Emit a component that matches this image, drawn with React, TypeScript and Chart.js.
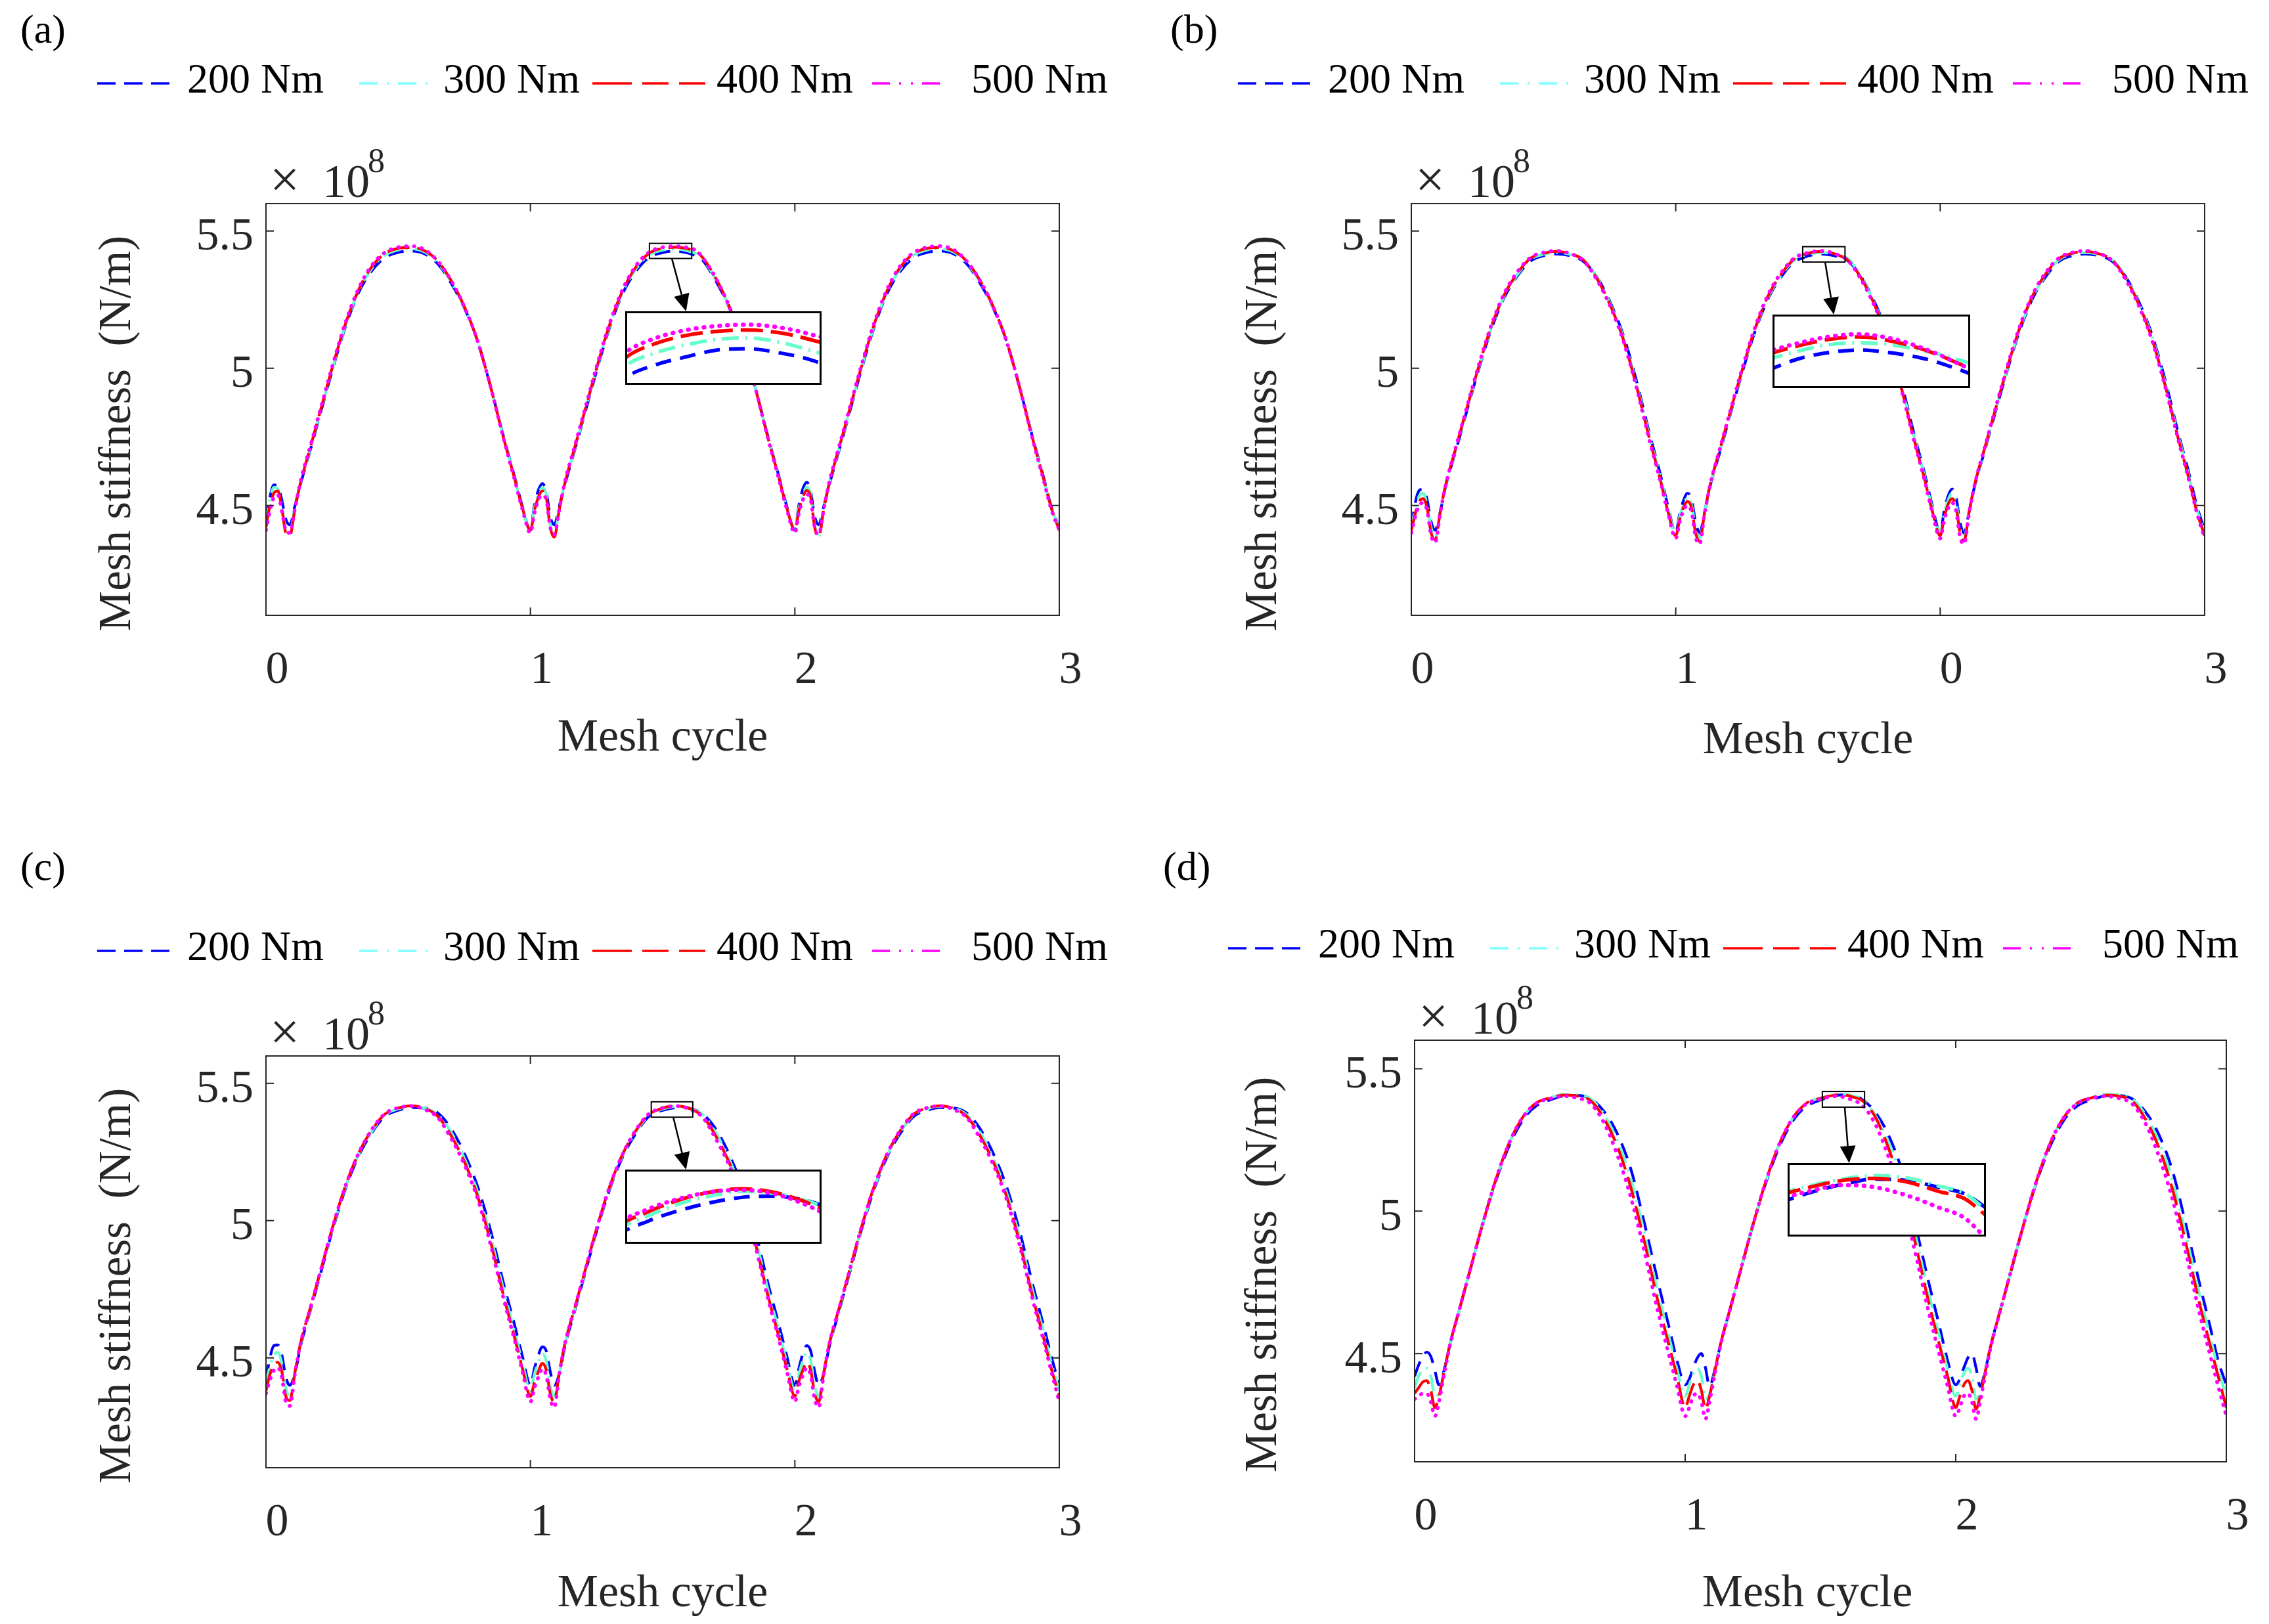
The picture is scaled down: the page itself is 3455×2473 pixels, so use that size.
import { useEffect, useRef } from 'react';
import { Chart, registerables } from 'chart.js';

Chart.register(...registerables);

const SERIF = '"Liberation Serif", "Times New Roman", Times, serif';
const AXIS_COLOR = '#262626';
const TICK_LEN = 12;

// ── Shared axis values ────────────────────────────────────
// mesh-cycle positions of every sampled point (denser around the zoomed peak)
const meshCycle = [
  0, 0.015, 0.03, 0.045, 0.06, 0.075, 0.09, 0.11, 0.13, 0.17, 0.21, 0.25, 0.3, 0.35, 0.4, 0.45, 0.5, 0.55, 0.6, 0.65, 0.7, 0.75, 0.8, 0.85, 0.9, 0.94, 0.97,
  1, 1.015, 1.03, 1.045, 1.06, 1.075, 1.09, 1.11, 1.13, 1.17, 1.21, 1.25, 1.3, 1.35, 1.4, 1.45, 1.475, 1.5, 1.525, 1.55, 1.575, 1.6, 1.625, 1.65, 1.7, 1.75, 1.8, 1.85, 1.9, 1.94, 1.97,
  2, 2.015, 2.03, 2.045, 2.06, 2.075, 2.09, 2.11, 2.13, 2.17, 2.21, 2.25, 2.3, 2.35, 2.4, 2.45, 2.5, 2.55, 2.6, 2.65, 2.7, 2.75, 2.8, 2.85, 2.9, 2.94, 2.97,
  3,
];

const xTicks = [0, 1, 2, 3];
const xLabels = ['0', '1', '2', '3'];
const xLabelsB = ['0', '1', '0', '3']; // printed this way in panel (b)
const yTicks = [4.5, 5, 5.5];
const yLabels = ['4.5', '5', '5.5'];
const loadLabels = ['200 Nm', '300 Nm', '400 Nm', '500 Nm'];

// ── Panel (a) mesh stiffness, ×1e8 N/m ────────────────────
const a200 = [
  4.44, 4.53, 4.575, 4.57, 4.52, 4.45, 4.43, 4.5, 4.575, 4.71, 4.85, 4.99, 5.15, 5.275, 5.355, 5.403, 5.422, 5.427, 5.417, 5.38, 5.31, 5.22, 5.1, 4.93, 4.745, 4.605, 4.495,
  4.41, 4.5, 4.555, 4.58, 4.55, 4.46, 4.43, 4.5, 4.575, 4.71, 4.85, 4.99, 5.15, 5.275, 5.355, 5.405, 5.415, 5.421, 5.426, 5.427, 5.424, 5.419, 5.41, 5.395, 5.32, 5.225, 5.1, 4.93, 4.745, 4.605, 4.495,
  4.41, 4.5, 4.56, 4.585, 4.55, 4.46, 4.43, 4.5, 4.575, 4.71, 4.85, 4.99, 5.15, 5.275, 5.355, 5.403, 5.422, 5.427, 5.417, 5.38, 5.31, 5.22, 5.1, 4.93, 4.745, 4.605, 4.495,
  4.42,
];
const a300 = [
  4.43, 4.52, 4.567, 4.56, 4.5, 4.41, 4.4, 4.5, 4.58, 4.715, 4.855, 4.995, 5.155, 5.28, 5.363, 5.412, 5.431, 5.435, 5.423, 5.385, 5.315, 5.222, 5.1, 4.93, 4.742, 4.6, 4.49,
  4.41, 4.49, 4.54, 4.565, 4.54, 4.43, 4.39, 4.5, 4.58, 4.715, 4.855, 4.995, 5.155, 5.28, 5.363, 5.414, 5.424, 5.43, 5.434, 5.435, 5.432, 5.426, 5.418, 5.4, 5.325, 5.228, 5.1, 4.93, 4.742, 4.6, 4.49,
  4.41, 4.49, 4.54, 4.567, 4.54, 4.43, 4.39, 4.5, 4.58, 4.715, 4.855, 4.995, 5.155, 5.28, 5.363, 5.412, 5.431, 5.435, 5.423, 5.385, 5.315, 5.222, 5.1, 4.93, 4.742, 4.6, 4.49,
  4.42,
];
const a400 = [
  4.42, 4.5, 4.545, 4.553, 4.49, 4.4, 4.39, 4.49, 4.58, 4.72, 4.86, 5.0, 5.16, 5.285, 5.37, 5.418, 5.437, 5.44, 5.428, 5.39, 5.32, 5.225, 5.1, 4.93, 4.74, 4.6, 4.49,
  4.41, 4.48, 4.53, 4.553, 4.53, 4.42, 4.385, 4.49, 4.58, 4.72, 4.86, 5.0, 5.16, 5.285, 5.37, 5.42, 5.431, 5.437, 5.44, 5.441, 5.439, 5.434, 5.426, 5.405, 5.33, 5.23, 5.1, 4.93, 4.74, 4.6, 4.49,
  4.41, 4.48, 4.53, 4.555, 4.53, 4.42, 4.385, 4.49, 4.58, 4.72, 4.86, 5.0, 5.16, 5.285, 5.37, 5.418, 5.437, 5.44, 5.428, 5.39, 5.32, 5.225, 5.1, 4.93, 4.74, 4.6, 4.49,
  4.41,
];
const a500 = [
  4.41, 4.48, 4.53, 4.538, 4.48, 4.41, 4.4, 4.49, 4.585, 4.725, 4.865, 5.005, 5.165, 5.29, 5.375, 5.422, 5.441, 5.445, 5.432, 5.39, 5.32, 5.225, 5.1, 4.93, 4.738, 4.595, 4.485,
  4.4, 4.47, 4.52, 4.538, 4.52, 4.42, 4.395, 4.49, 4.585, 4.725, 4.865, 5.005, 5.165, 5.29, 5.375, 5.424, 5.435, 5.441, 5.444, 5.445, 5.443, 5.438, 5.43, 5.405, 5.33, 5.23, 5.1, 4.93, 4.738, 4.595, 4.485,
  4.4, 4.47, 4.52, 4.54, 4.52, 4.42, 4.395, 4.49, 4.585, 4.725, 4.865, 5.005, 5.165, 5.29, 5.375, 5.422, 5.441, 5.445, 5.432, 5.39, 5.32, 5.225, 5.1, 4.93, 4.738, 4.595, 4.485,
  4.41,
];

// ── Panel (b) ─────────────────────────────────────────────
const b200 = [
  4.42, 4.51, 4.555, 4.56, 4.52, 4.44, 4.41, 4.48, 4.57, 4.705, 4.845, 4.98, 5.135, 5.255, 5.335, 5.39, 5.41, 5.416, 5.41, 5.39, 5.335, 5.245, 5.125, 4.96, 4.765, 4.62, 4.5,
  4.4, 4.47, 4.52, 4.545, 4.52, 4.44, 4.4, 4.48, 4.57, 4.705, 4.845, 4.98, 5.135, 5.255, 5.335, 5.39, 5.4, 5.409, 5.414, 5.416, 5.414, 5.41, 5.403, 5.392, 5.335, 5.245, 5.125, 4.96, 4.765, 4.62, 4.5,
  4.4, 4.48, 4.535, 4.56, 4.53, 4.44, 4.4, 4.48, 4.57, 4.705, 4.845, 4.98, 5.135, 5.255, 5.335, 5.39, 5.41, 5.416, 5.41, 5.39, 5.335, 5.245, 5.125, 4.96, 4.765, 4.62, 4.5,
  4.41,
];
const b300 = [
  4.41, 4.49, 4.535, 4.545, 4.5, 4.42, 4.385, 4.48, 4.572, 4.71, 4.85, 4.985, 5.14, 5.26, 5.34, 5.396, 5.415, 5.4215, 5.415, 5.397, 5.335, 5.24, 5.117, 4.95, 4.755, 4.61, 4.49,
  4.4, 4.46, 4.505, 4.53, 4.5, 4.42, 4.38, 4.48, 4.572, 4.71, 4.85, 4.985, 5.14, 5.26, 5.34, 5.396, 5.408, 5.415, 5.42, 5.4215, 5.42, 5.416, 5.41, 5.4, 5.335, 5.24, 5.117, 4.95, 4.755, 4.61, 4.49,
  4.4, 4.47, 4.52, 4.545, 4.51, 4.42, 4.38, 4.48, 4.572, 4.71, 4.85, 4.985, 5.14, 5.26, 5.34, 5.396, 5.415, 5.4215, 5.415, 5.397, 5.335, 5.24, 5.117, 4.95, 4.755, 4.61, 4.49,
  4.4,
];
const b400 = [
  4.41, 4.47, 4.515, 4.525, 4.49, 4.4, 4.375, 4.48, 4.575, 4.715, 4.855, 4.99, 5.145, 5.265, 5.345, 5.4, 5.419, 5.426, 5.417, 5.395, 5.33, 5.235, 5.11, 4.94, 4.745, 4.6, 4.48,
  4.39, 4.45, 4.495, 4.515, 4.49, 4.4, 4.37, 4.48, 4.575, 4.715, 4.855, 4.99, 5.145, 5.265, 5.345, 5.4, 5.412, 5.419, 5.424, 5.426, 5.423, 5.417, 5.408, 5.395, 5.33, 5.235, 5.11, 4.94, 4.745, 4.6, 4.48,
  4.39, 4.455, 4.505, 4.525, 4.495, 4.4, 4.37, 4.48, 4.575, 4.715, 4.855, 4.99, 5.145, 5.265, 5.345, 5.4, 5.419, 5.426, 5.417, 5.395, 5.33, 5.235, 5.11, 4.94, 4.745, 4.6, 4.48,
  4.39,
];
const b500 = [
  4.4, 4.46, 4.5, 4.51, 4.48, 4.39, 4.365, 4.475, 4.575, 4.718, 4.858, 4.995, 5.15, 5.27, 5.35, 5.403, 5.422, 5.428, 5.418, 5.393, 5.325, 5.23, 5.105, 4.935, 4.74, 4.595, 4.475,
  4.38, 4.44, 4.485, 4.5, 4.475, 4.385, 4.36, 4.475, 4.575, 4.718, 4.858, 4.995, 5.15, 5.27, 5.35, 5.403, 5.414, 5.421, 5.426, 5.428, 5.425, 5.418, 5.408, 5.394, 5.325, 5.23, 5.105, 4.935, 4.74, 4.595, 4.475,
  4.38, 4.445, 4.49, 4.51, 4.48, 4.385, 4.36, 4.475, 4.575, 4.718, 4.858, 4.995, 5.15, 5.27, 5.35, 5.403, 5.422, 5.428, 5.418, 5.393, 5.325, 5.23, 5.105, 4.935, 4.74, 4.595, 4.475,
  4.38,
];

// ── Panel (c) ─────────────────────────────────────────────
const c200 = [
  4.42, 4.5, 4.545, 4.547, 4.51, 4.43, 4.4, 4.445, 4.54, 4.68, 4.82, 4.96, 5.115, 5.235, 5.32, 5.38, 5.402, 5.412, 5.41, 5.392, 5.335, 5.245, 5.125, 4.962, 4.765, 4.62, 4.505,
  4.4, 4.46, 4.51, 4.54, 4.525, 4.45, 4.4, 4.445, 4.54, 4.68, 4.82, 4.96, 5.115, 5.235, 5.32, 5.382, 5.394, 5.402, 5.408, 5.412, 5.413, 5.41, 5.402, 5.39, 5.335, 5.245, 5.125, 4.962, 4.765, 4.62, 4.505,
  4.4, 4.46, 4.515, 4.545, 4.525, 4.45, 4.4, 4.445, 4.54, 4.68, 4.82, 4.96, 5.115, 5.235, 5.32, 5.38, 5.402, 5.412, 5.41, 5.392, 5.335, 5.245, 5.125, 4.962, 4.765, 4.62, 4.505,
  4.4,
];
const c300 = [
  4.4, 4.47, 4.51, 4.52, 4.48, 4.39, 4.36, 4.445, 4.545, 4.685, 4.825, 4.965, 5.12, 5.24, 5.325, 5.385, 5.407, 5.4165, 5.41, 5.386, 5.322, 5.228, 5.105, 4.94, 4.742, 4.597, 4.482,
  4.38, 4.44, 4.485, 4.515, 4.49, 4.4, 4.36, 4.445, 4.545, 4.685, 4.825, 4.965, 5.12, 5.24, 5.325, 5.386, 5.398, 5.407, 5.413, 5.4165, 5.415, 5.41, 5.401, 5.388, 5.322, 5.228, 5.105, 4.94, 4.742, 4.597, 4.482,
  4.38, 4.44, 4.49, 4.52, 4.49, 4.4, 4.36, 4.445, 4.545, 4.685, 4.825, 4.965, 5.12, 5.24, 5.325, 5.385, 5.407, 5.4165, 5.41, 5.386, 5.322, 5.228, 5.105, 4.94, 4.742, 4.597, 4.482,
  4.38,
];
const c400 = [
  4.38, 4.44, 4.475, 4.484, 4.45, 4.36, 4.345, 4.45, 4.55, 4.69, 4.83, 4.97, 5.125, 5.245, 5.33, 5.388, 5.41, 5.4185, 5.409, 5.38, 5.31, 5.215, 5.09, 4.92, 4.72, 4.575, 4.46,
  4.36, 4.41, 4.45, 4.48, 4.455, 4.37, 4.34, 4.45, 4.55, 4.69, 4.83, 4.97, 5.125, 5.245, 5.33, 5.389, 5.401, 5.41, 5.416, 5.4185, 5.416, 5.409, 5.398, 5.382, 5.31, 5.215, 5.09, 4.92, 4.72, 4.575, 4.46,
  4.36, 4.415, 4.455, 4.484, 4.455, 4.37, 4.34, 4.45, 4.55, 4.69, 4.83, 4.97, 5.125, 5.245, 5.33, 5.388, 5.41, 5.4185, 5.409, 5.38, 5.31, 5.215, 5.09, 4.92, 4.72, 4.575, 4.46,
  4.36,
];
const c500 = [
  4.37, 4.42, 4.455, 4.464, 4.43, 4.34, 4.325, 4.445, 4.55, 4.69, 4.83, 4.97, 5.125, 5.245, 5.332, 5.39, 5.411, 5.4177, 5.405, 5.375, 5.3, 5.205, 5.08, 4.91, 4.71, 4.565, 4.45,
  4.34, 4.39, 4.43, 4.46, 4.435, 4.35, 4.32, 4.445, 4.55, 4.69, 4.83, 4.97, 5.125, 5.245, 5.332, 5.391, 5.403, 5.411, 5.416, 5.4177, 5.415, 5.407, 5.395, 5.378, 5.3, 5.205, 5.08, 4.91, 4.71, 4.565, 4.45,
  4.34, 4.395, 4.435, 4.464, 4.435, 4.35, 4.32, 4.445, 4.55, 4.69, 4.83, 4.97, 5.125, 5.245, 5.332, 5.39, 5.411, 5.4177, 5.405, 5.375, 5.3, 5.205, 5.08, 4.91, 4.71, 4.565, 4.45,
  4.34,
];

// ── Panel (d) ─────────────────────────────────────────────
const d200 = [
  4.42, 4.46, 4.49, 4.505, 4.49, 4.44, 4.39, 4.445, 4.53, 4.67, 4.81, 4.95, 5.105, 5.23, 5.32, 5.37, 5.39, 5.404, 5.406, 5.395, 5.35, 5.27, 5.145, 4.955, 4.75, 4.595, 4.475,
  4.39, 4.41, 4.45, 4.485, 4.5, 4.45, 4.385, 4.445, 4.53, 4.67, 4.81, 4.95, 5.105, 5.23, 5.32, 5.37, 5.381, 5.39, 5.398, 5.404, 5.408, 5.407, 5.402, 5.395, 5.35, 5.27, 5.145, 4.955, 4.75, 4.595, 4.475,
  4.39, 4.41, 4.45, 4.485, 4.5, 4.45, 4.385, 4.445, 4.53, 4.67, 4.81, 4.95, 5.105, 5.23, 5.32, 5.37, 5.39, 5.404, 5.406, 5.395, 5.35, 5.27, 5.145, 4.955, 4.75, 4.595, 4.475,
  4.39,
];
const d300 = [
  4.38, 4.42, 4.445, 4.448, 4.42, 4.35, 4.36, 4.44, 4.53, 4.67, 4.81, 4.95, 5.11, 5.24, 5.33, 5.38, 5.398, 5.409, 5.409, 5.395, 5.34, 5.245, 5.11, 4.92, 4.712, 4.56, 4.445,
  4.35, 4.39, 4.43, 4.448, 4.42, 4.34, 4.36, 4.44, 4.53, 4.67, 4.81, 4.95, 5.11, 5.24, 5.33, 5.38, 5.391, 5.397, 5.403, 5.408, 5.4105, 5.409, 5.403, 5.395, 5.34, 5.245, 5.11, 4.92, 4.712, 4.56, 4.445,
  4.35, 4.39, 4.43, 4.448, 4.42, 4.34, 4.36, 4.44, 4.53, 4.67, 4.81, 4.95, 5.11, 5.24, 5.33, 5.38, 5.398, 5.409, 5.409, 5.395, 5.34, 5.245, 5.11, 4.92, 4.712, 4.56, 4.445,
  4.35,
];
const d400 = [
  4.36, 4.38, 4.4, 4.405, 4.37, 4.31, 4.35, 4.44, 4.53, 4.67, 4.81, 4.95, 5.11, 5.24, 5.33, 5.38, 5.397, 5.407, 5.404, 5.388, 5.325, 5.225, 5.08, 4.89, 4.68, 4.53, 4.42,
  4.31, 4.35, 4.39, 4.405, 4.37, 4.305, 4.35, 4.44, 4.53, 4.67, 4.81, 4.95, 5.11, 5.24, 5.33, 5.38, 5.39, 5.396, 5.402, 5.407, 5.4085, 5.406, 5.399, 5.391, 5.335, 5.225, 5.08, 4.89, 4.68, 4.53, 4.42,
  4.31, 4.35, 4.39, 4.405, 4.37, 4.305, 4.35, 4.44, 4.53, 4.67, 4.81, 4.95, 5.11, 5.24, 5.33, 5.38, 5.397, 5.407, 5.404, 5.388, 5.325, 5.225, 5.08, 4.89, 4.68, 4.53, 4.42,
  4.31,
];
const d500 = [
  4.34, 4.35, 4.36, 4.36, 4.33, 4.28, 4.33, 4.43, 4.525, 4.67, 4.81, 4.95, 5.11, 5.24, 5.33, 5.378, 5.395, 5.4035, 5.397, 5.378, 5.31, 5.195, 5.045, 4.855, 4.645, 4.495, 4.385,
  4.28, 4.31, 4.35, 4.36, 4.33, 4.27, 4.33, 4.43, 4.525, 4.67, 4.81, 4.95, 5.11, 5.24, 5.33, 5.378, 5.387, 5.393, 5.399, 5.4035, 5.402, 5.396, 5.387, 5.376, 5.31, 5.195, 5.045, 4.855, 4.645, 4.495, 4.385,
  4.28, 4.31, 4.35, 4.36, 4.33, 4.27, 4.33, 4.43, 4.525, 4.67, 4.81, 4.95, 5.11, 5.24, 5.33, 5.378, 5.395, 5.4035, 5.397, 5.378, 5.31, 5.195, 5.045, 4.855, 4.645, 4.495, 4.385,
  4.28,
];

// ── Styles ────────────────────────────────────────────────
const plotStyles = [
  { color: '#0000ff', dash: [24, 14], cap: 'butt' },
  { color: '#66ffcc', dash: [26, 10, 3, 10], cap: 'butt' },
  { color: '#ff0000', dash: [34, 12], cap: 'butt' },
  { color: '#ff00ff', dash: [1, 11], cap: 'round' },
];
const legendStyles = [
  { color: '#0000ff', dash: [28, 13] },
  { color: '#80ffff', dash: [28, 14, 3, 14] },
  { color: '#ff0000', dash: [60, 16, 40, 16] },
  { color: '#ff00ff', dash: [27, 14, 3, 15, 3, 14, 27, 40] },
];
// legend geometry for panel (a); other panels are shifted copies
const legendLines = [[148, 260], [547, 652], [902, 1074], [1328, 1433]];
const legendTextX = [285, 675, 1091, 1479];

interface Panel {
  ox: number; oy: number; w: number; h: number;
  plot: number[];      // left, top, right, bottom (page px)
  yRange: number[];
  tag: string; tagAt: number[];
  legendDx: number; legendY: number;
  xTitleAt: number[]; yTitleAt: number[];
  inset: number[];     // left, top, width, height (page px)
  zoomX: number[]; zoomY: number[];
  xLabels: string[];
  series: number[][];
}

const panels: Panel[] = [
  {
    ox: 0, oy: 0, w: 1727, h: 1236, plot: [405, 310, 1613, 937], yRange: [4.1, 5.6],
    tag: '(a)', tagAt: [31, 49], legendDx: 0, legendY: 124,
    xTitleAt: [1009, 1125], yTitleAt: [180, 660],
    inset: [952, 474, 299, 112], zoomX: [1.45, 1.61], zoomY: [5.4, 5.455],
    xLabels, series: [a200, a300, a400, a500],
  },
  {
    ox: 1727, oy: 0, w: 1728, h: 1236, plot: [2149, 310, 3357, 937], yRange: [4.1, 5.6],
    tag: '(b)', tagAt: [1782, 49], legendDx: 1737, legendY: 124,
    xTitleAt: [2753, 1129], yTitleAt: [1925, 660],
    inset: [2699, 479, 301, 112], zoomX: [1.48, 1.64], zoomY: [5.387, 5.443],
    xLabels: xLabelsB, series: [b200, b300, b400, b500],
  },
  {
    ox: 0, oy: 1236, w: 1727, h: 1237, plot: [405, 1608, 1613, 2235], yRange: [4.1, 5.6],
    tag: '(c)', tagAt: [31, 1324], legendDx: 0, legendY: 1445,
    xTitleAt: [1009, 2428], yTitleAt: [180, 1958],
    inset: [952, 1781, 299, 113], zoomX: [1.457, 1.614], zoomY: [5.377, 5.433],
    xLabels, series: [c200, c300, c400, c500],
  },
  {
    ox: 1727, oy: 1236, w: 1728, h: 1237, plot: [2154, 1584, 3390, 2226], yRange: [4.12, 5.6],
    tag: '(d)', tagAt: [1771, 1324], legendDx: 1722, legendY: 1441,
    xTitleAt: [2752, 2428], yTitleAt: [1925, 1941],
    inset: [2722, 1771, 302, 112], zoomX: [1.507, 1.663], zoomY: [5.365, 5.42],
    xLabels, series: [d200, d300, d400, d500],
  },
];

function buildDatasets(series: number[][], inset: boolean) {
  return series.map((ys, k) => ({
    label: loadLabels[k],
    data: meshCycle.map((x, i) => ({ x, y: ys[i] })),
    borderColor: plotStyles[k].color,
    backgroundColor: 'transparent',
    borderWidth: inset ? (k === 3 ? 6.5 : 5.5) : (k === 3 ? 5.5 : 4.2),
    borderDash: plotStyles[k].dash,
    borderCapStyle: plotStyles[k].cap,
    pointRadius: 0,
    fill: false,
    tension: 0.4,
    cubicInterpolationMode: 'monotone',
    order: 4 - k, // 500 Nm drawn on top
  }));
}

function drawArrow(ctx: CanvasRenderingContext2D, sx: number, sy: number, ex: number, ey: number) {
  const len = Math.hypot(ex - sx, ey - sy);
  const ux = (ex - sx) / len, uy = (ey - sy) / len;
  const head = 26, half = 12;
  const bx = ex - ux * head, by = ey - uy * head;
  ctx.strokeStyle = '#000';
  ctx.fillStyle = '#000';
  ctx.lineWidth = 2.5;
  ctx.beginPath();
  ctx.moveTo(sx, sy);
  ctx.lineTo(bx, by);
  ctx.stroke();
  ctx.beginPath();
  ctx.moveTo(ex, ey);
  ctx.lineTo(bx - uy * half, by + ux * half);
  ctx.lineTo(bx + uy * half, by - ux * half);
  ctx.closePath();
  ctx.fill();
}

function decorPlugin(p: Panel) {
  return {
    id: 'meshDecor',
    afterDraw(chart: any) {
      const { ctx, chartArea } = chart;
      const { left, top, right, bottom } = chartArea;
      const sx = chart.scales.x, sy = chart.scales.y;
      ctx.save();
      ctx.setLineDash([]);

      // axes box with inward ticks on all sides
      ctx.strokeStyle = AXIS_COLOR;
      ctx.lineWidth = 2;
      ctx.strokeRect(left, top, right - left, bottom - top);
      ctx.beginPath();
      xTicks.forEach(v => {
        const px = sx.getPixelForValue(v);
        ctx.moveTo(px, bottom); ctx.lineTo(px, bottom - TICK_LEN);
        ctx.moveTo(px, top); ctx.lineTo(px, top + TICK_LEN);
      });
      yTicks.forEach(v => {
        const py = sy.getPixelForValue(v);
        ctx.moveTo(left, py); ctx.lineTo(left + TICK_LEN, py);
        ctx.moveTo(right, py); ctx.lineTo(right - TICK_LEN, py);
      });
      ctx.stroke();

      // zoom window + arrow to inset
      const zx0 = sx.getPixelForValue(p.zoomX[0]);
      const zx1 = sx.getPixelForValue(p.zoomX[1]);
      const zyLo = sy.getPixelForValue(p.zoomY[0]);
      const zyHi = sy.getPixelForValue(p.zoomY[1]);
      ctx.strokeStyle = '#000';
      ctx.lineWidth = 2;
      ctx.strokeRect(zx0, zyHi, zx1 - zx0, zyLo - zyHi);
      drawArrow(
        ctx,
        zx0 + 0.53 * (zx1 - zx0), zyLo,
        p.inset[0] - p.ox + 0.31 * p.inset[2], p.inset[1] - p.oy,
      );

      // panel tag
      ctx.fillStyle = '#000';
      ctx.font = `62px ${SERIF}`;
      ctx.textAlign = 'left';
      ctx.textBaseline = 'middle';
      ctx.fillText(p.tag, p.tagAt[0] - p.ox, p.tagAt[1] - p.oy);

      // legend row
      loadLabels.forEach((lab, k) => {
        const [x0, x1] = legendLines[k];
        const ly = p.legendY + 3 - p.oy;
        ctx.strokeStyle = legendStyles[k].color;
        ctx.lineWidth = 3.5;
        ctx.setLineDash(legendStyles[k].dash);
        ctx.beginPath();
        ctx.moveTo(x0 + p.legendDx - p.ox, ly);
        ctx.lineTo(x1 + p.legendDx - p.ox, ly);
        ctx.stroke();
        ctx.setLineDash([]);
        ctx.fillStyle = '#000';
        ctx.font = `64px ${SERIF}`;
        ctx.fillText(lab, legendTextX[k] + p.legendDx - p.ox, p.legendY - p.oy);
      });

      // exponent label
      ctx.fillStyle = AXIS_COLOR;
      ctx.textBaseline = 'alphabetic';
      ctx.font = `80px ${SERIF}`;
      ctx.fillText('\u00d7', left + 6, top - 10);
      ctx.font = `72px ${SERIF}`;
      ctx.fillText('10', left + 86, top - 10);
      ctx.font = `52px ${SERIF}`;
      ctx.fillText('8', left + 155, top - 48);

      // axis titles
      ctx.textAlign = 'center';
      ctx.textBaseline = 'middle';
      ctx.font = `70px ${SERIF}`;
      ctx.fillText('Mesh cycle', p.xTitleAt[0] - p.ox, p.xTitleAt[1] - p.oy);
      ctx.save();
      ctx.translate(p.yTitleAt[0] - p.ox, p.yTitleAt[1] - p.oy);
      ctx.rotate(-Math.PI / 2);
      ctx.font = `69px ${SERIF}`;
      ctx.fillText('Mesh stiffness  (N/m)', 0, 0);
      ctx.restore();

      ctx.restore();
    },
  };
}

const insetFrame = {
  id: 'insetFrame',
  beforeDraw(chart: any) {
    const { ctx, width, height } = chart;
    ctx.save();
    ctx.fillStyle = '#fff';
    ctx.fillRect(0, 0, width, height);
    ctx.restore();
  },
  afterDraw(chart: any) {
    const { ctx, width, height } = chart;
    ctx.save();
    ctx.setLineDash([]);
    ctx.strokeStyle = '#000';
    ctx.lineWidth = 3;
    ctx.strokeRect(1.5, 1.5, width - 3, height - 3);
    ctx.restore();
  },
};

function StiffnessPanel({ p }: { p: Panel }) {
  const mainRef = useRef<HTMLCanvasElement>(null);
  const insetRef = useRef<HTMLCanvasElement>(null);

  useEffect(() => {
    if (!mainRef.current || !insetRef.current) return;
    const tickFont = { family: SERIF, size: 70 };
    // scale boxes fill the margins so their tick labels are not clipped
    const yAxisWidth = p.plot[0] - p.ox;
    const xAxisHeight = p.oy + p.h - p.plot[3];

    const main = new Chart(mainRef.current, {
      type: 'line',
      data: { datasets: buildDatasets(p.series, false) as any },
      options: {
        animation: false,
        responsive: false,
        events: [],
        layout: {
          padding: {
            left: 0,
            top: p.plot[1] - p.oy,
            right: p.ox + p.w - p.plot[2],
            bottom: 0,
          },
        },
        plugins: { legend: { display: false }, tooltip: { enabled: false } },
        scales: {
          x: {
            type: 'linear',
            min: 0,
            max: 3,
            afterFit: (s: any) => { s.height = xAxisHeight; },
            afterBuildTicks: (s: any) => { s.ticks = xTicks.map(v => ({ value: v })); },
            grid: { display: false, drawTicks: false },
            border: { display: false },
            ticks: {
              autoSkip: false,
              maxRotation: 0,
              padding: 43,
              labelOffset: 17,
              color: AXIS_COLOR,
              font: tickFont,
              callback: (_v: any, i: number) => p.xLabels[i],
            },
          },
          y: {
            type: 'linear',
            min: p.yRange[0],
            max: p.yRange[1],
            afterFit: (s: any) => { s.width = yAxisWidth; },
            afterBuildTicks: (s: any) => { s.ticks = yTicks.map(v => ({ value: v })); },
            grid: { display: false, drawTicks: false },
            border: { display: false },
            ticks: {
              autoSkip: false,
              padding: 19,
              labelOffset: 10,
              color: AXIS_COLOR,
              font: tickFont,
              callback: (_v: any, i: number) => yLabels[i],
            },
          },
        },
      },
      plugins: [decorPlugin(p)],
    });

    const inset = new Chart(insetRef.current, {
      type: 'line',
      data: { datasets: buildDatasets(p.series, true) as any },
      options: {
        animation: false,
        responsive: false,
        events: [],
        layout: { padding: 0 },
        plugins: { legend: { display: false }, tooltip: { enabled: false } },
        scales: {
          x: { type: 'linear', display: false, min: p.zoomX[0], max: p.zoomX[1] },
          y: { type: 'linear', display: false, min: p.zoomY[0], max: p.zoomY[1] },
        },
      },
      plugins: [insetFrame],
    });

    return () => { main.destroy(); inset.destroy(); };
  }, [p]);

  return (
    <>
      <canvas
        ref={mainRef}
        width={p.w}
        height={p.h}
        style={{ position: 'absolute', left: p.ox, top: p.oy, width: p.w, height: p.h }}
      />
      <canvas
        ref={insetRef}
        width={p.inset[2]}
        height={p.inset[3]}
        style={{ position: 'absolute', left: p.inset[0], top: p.inset[1], width: p.inset[2], height: p.inset[3] }}
      />
    </>
  );
}

export default function App() {
  return (
    <div style={{ position: 'absolute', left: 0, top: 0, width: 3455, height: 2473, background: '#fff' }}>
      {panels.map(p => <StiffnessPanel key={p.tag} p={p} />)}
    </div>
  );
}
